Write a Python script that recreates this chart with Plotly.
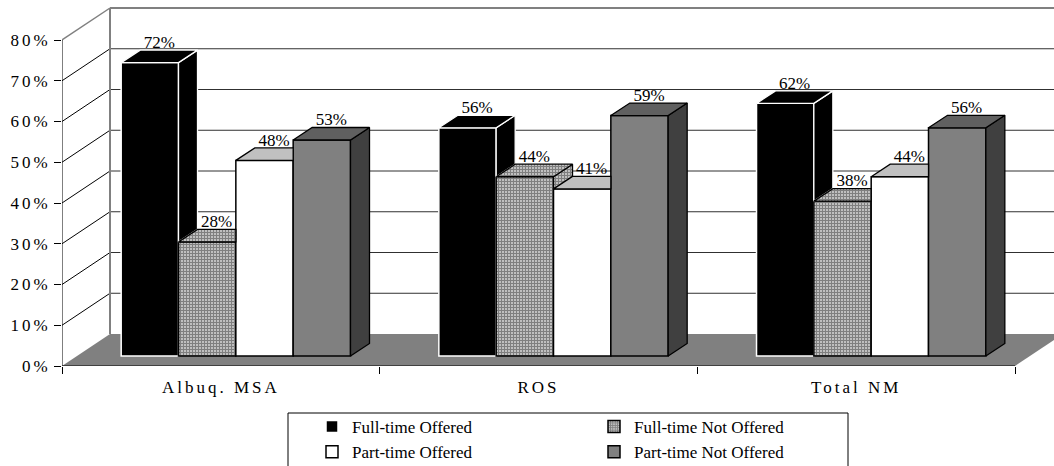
import plotly.graph_objects as go

# ---- data -------------------------------------------------------------
categories = ["Albuq. MSA", "ROS", "Total NM"]
series_names = ["Full-time Offered", "Full-time Not Offered",
                "Part-time Offered", "Part-time Not Offered"]
full_time_offered = [72, 56, 62]
full_time_not_offered = [28, 44, 38]
part_time_offered = [48, 41, 44]
part_time_not_offered = [53, 59, 56]
y_tick_values = [0, 10, 20, 30, 40, 50, 60, 70, 80]

series_values = [full_time_offered, full_time_not_offered,
                 part_time_offered, part_time_not_offered]

# ---- styling ----------------------------------------------------------
FONT = "Liberation Serif"
HATCH = dict(shape="+", fgcolor="black", bgcolor="white", size=3, solidity=0.8)
styles = [
    dict(front="black", top="black", side="black", edge="white", pattern=None),
    dict(front="white", top="white", side="white", edge="black", pattern=HATCH),
    dict(front="white", top="#c0c0c0", side="#c0c0c0", edge="black", pattern=None),
    dict(front="#808080", top="#606060", side="#404040", edge="black", pattern=None),
]
legend_of_series = ["legend", "legend2", "legend", "legend2"]

# ---- 3-D projection helpers (oblique view, expressed in axis units) ----
W, H = 1054, 466
M_L, M_R, M_T, M_B = 62, 0, 0, 100
PLOT_W, PLOT_H = W - M_L - M_R, H - M_T - M_B
n_cat = len(categories)
PX_PER_CAT = 317.67          # horizontal scale of one category slot
PX_PER_PCT = 4.075           # vertical scale of one percent

def dx(px):
    return px / PX_PER_CAT

def dy(px):
    return px / PX_PER_PCT

WALL_DX, WALL_DY = dx(48), dy(32)     # depth of the floor / side wall
ROW_DX, ROW_DY = dx(15), dy(10)       # plane on which the bar row stands
BAR_DX, BAR_DY = dx(19), dy(12.5)     # depth of an individual bar
BAR_W = dx(57.33)
n_ser = len(series_values)

x_range = [0, dx(PLOT_W)]
y_range = [0, dy(PLOT_H)]
y_top = y_tick_values[-1]

fig = go.Figure()

def bar_left(k, i):
    return k + 0.5 - n_ser * BAR_W / 2 + ROW_DX + i * BAR_W

# front faces of the bars
for i, (name, vals) in enumerate(zip(series_names, series_values)):
    st = styles[i]
    marker = dict(color=st["front"], line=dict(color=st["edge"], width=1.5))
    if st["pattern"]:
        marker["pattern"] = st["pattern"]
    fig.add_trace(go.Bar(
        name=name,
        x=[bar_left(k, i) + BAR_W / 2 for k in range(n_cat)],
        y=vals,
        base=[ROW_DY] * n_cat,
        width=BAR_W,
        marker=marker,
        legend=legend_of_series[i],
        hoverinfo="skip",
    ))

def face(xs, ys, st, fill):
    kw = dict(x=xs + [xs[0]], y=ys + [ys[0]], mode="lines", fill="toself",
              line=dict(color=st["edge"], width=1.3), showlegend=False,
              hoverinfo="skip")
    if st["pattern"]:
        kw["fillpattern"] = st["pattern"]
        kw["fillcolor"] = "white"
    else:
        kw["fillcolor"] = fill
    return go.Scatter(**kw)

# side and top faces, painted left to right so nearer bars cover farther ones
for k in range(n_cat):
    for i in range(n_ser):
        st = styles[i]
        xl = bar_left(k, i)
        xr = xl + BAR_W
        h = ROW_DY + series_values[i][k]
        nxt = ROW_DY + series_values[i + 1][k] if i + 1 < n_ser else None

        # side face (visible part only)
        low = ROW_DY if nxt is None else max(ROW_DY, nxt)
        if nxt is None or nxt < h:
            fig.add_trace(face([xr, xr, xr + BAR_DX, xr + BAR_DX],
                               [low, h, h + BAR_DY, low + BAR_DY], st, st["side"]))

        # top face (clipped where the next bar's front rises above it)
        if nxt is not None and nxt > h:
            xs = [xl, xr, xr, xl + BAR_DX]
        else:
            xs = [xl, xr, xr + BAR_DX, xl + BAR_DX]
        ys = [h, h, h + BAR_DY, h + BAR_DY]
        fig.add_trace(face(xs, ys, st, st["top"]))

# value labels above each bar
lab_x, lab_y, lab_t = [], [], []
for i in range(n_ser):
    for k in range(n_cat):
        v = series_values[i][k]
        lab_x.append(bar_left(k, i) + BAR_W / 2 + BAR_DX / 2)
        lab_y.append(ROW_DY + v + BAR_DY - dy(2))
        lab_t.append(f"{v}%")
fig.add_trace(go.Scatter(
    x=lab_x, y=lab_y, text=lab_t, mode="text", textposition="top center",
    textfont=dict(family=FONT, size=17, color="black"),
    showlegend=False, hoverinfo="skip", cliponaxis=False,
))

# ---- walls, floor and gridlines ---------------------------------------
shapes = []
x_end = n_cat
shapes.append(dict(type="path", xref="x", yref="y", layer="below",
                   path=f"M0,0 L{x_end},0 L{x_end + WALL_DX},{WALL_DY} L{WALL_DX},{WALL_DY} Z",
                   fillcolor="#808080", line=dict(width=0)))
for v in y_tick_values[1:-1]:
    shapes.append(dict(type="line", xref="x", yref="y", layer="below",
                       x0=WALL_DX, y0=v + WALL_DY, x1=x_end + WALL_DX, y1=v + WALL_DY,
                       line=dict(color="#303030", width=1)))
    shapes.append(dict(type="line", xref="x", yref="y", layer="below",
                       x0=0, y0=v, x1=WALL_DX, y1=v + WALL_DY,
                       line=dict(color="black", width=1)))
wall_grey = dict(color="#808080", width=2)
shapes.append(dict(type="line", xref="x", yref="y", layer="below",
                   x0=WALL_DX, y0=WALL_DY, x1=WALL_DX, y1=y_top + WALL_DY, line=wall_grey))
shapes.append(dict(type="line", xref="x", yref="y", layer="below",
                   x0=WALL_DX, y0=y_top + WALL_DY, x1=x_end + WALL_DX, y1=y_top + WALL_DY,
                   line=wall_grey))
shapes.append(dict(type="line", xref="x", yref="y", layer="below",
                   x0=0, y0=y_top, x1=WALL_DX, y1=y_top + WALL_DY,
                   line=dict(color="#808080", width=1.5)))
# front axis lines
shapes.append(dict(type="line", xref="x", yref="y", layer="below",
                   x0=0, y0=0, x1=0, y1=y_top, line=dict(color="black", width=1)))
shapes.append(dict(type="line", xref="x", yref="y", layer="below",
                   x0=0, y0=0, x1=x_end, y1=0, line=dict(color="black", width=1.2)))

# legend frame
def px_to_paper_x(px):
    return (px - M_L) / PLOT_W

def px_to_paper_y(py):
    return (M_T + PLOT_H - py) / PLOT_H

shapes.append(dict(type="rect", xref="paper", yref="paper",
                   x0=px_to_paper_x(288), x1=px_to_paper_x(848),
                   y0=px_to_paper_y(413), y1=px_to_paper_y(500),
                   line=dict(color="black", width=1), fillcolor="rgba(0,0,0,0)"))

legend_style = dict(font=dict(family=FONT, size=17, color="black"),
                    bgcolor="rgba(0,0,0,0)", borderwidth=0,
                    orientation="v", xanchor="left", yanchor="top",
                    tracegroupgap=0)

fig.update_layout(
    width=W, height=H,
    margin=dict(l=M_L, r=M_R, t=M_T, b=M_B, pad=0, autoexpand=False),
    paper_bgcolor="white", plot_bgcolor="white",
    barmode="overlay",
    shapes=shapes,
    showlegend=True,
    legend=dict(legend_style, x=px_to_paper_x(312), y=px_to_paper_y(409)),
    legend2=dict(legend_style, x=px_to_paper_x(594), y=px_to_paper_y(409)),
    xaxis=dict(
        range=x_range, showgrid=False, zeroline=False, showline=False,
        tickmode="array",
        tickvals=[k + 0.5 for k in range(n_cat)], ticktext=categories,
        ticks="", ticklabelstandoff=9,
        tickfont=dict(family=FONT, size=17, color="black"),
        minor=dict(tickmode="array", tickvals=list(range(n_cat + 1)),
                   ticks="outside", ticklen=7, tickcolor="black", tickwidth=1,
                   showgrid=False),
        fixedrange=True,
    ),
    yaxis=dict(
        range=y_range, showgrid=False, zeroline=False, showline=False,
        tickmode="array", tickvals=y_tick_values,
        ticktext=[f"{v}%" for v in y_tick_values],
        ticks="outside", ticklen=7, tickcolor="black", tickwidth=1,
        tickfont=dict(family=FONT, size=17, color="black"),
        fixedrange=True,
    ),
)

spacing_js = ("document.querySelectorAll('.xtick text, .ytick text')"
              ".forEach(function(t){t.style.letterSpacing='3px';});")
fig.write_html("out.html", post_script=spacing_js)
